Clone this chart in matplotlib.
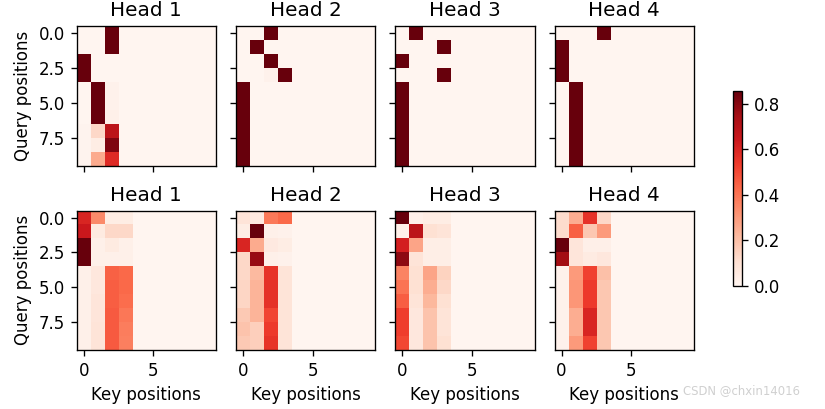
import numpy as np
import matplotlib
matplotlib.use("Agg")
import matplotlib.pyplot as plt

# attention weights, 10 queries x 4 valid keys (keys 4-9 are masked -> 0)
top_head1 = [[0, 0, 1, 0], [0, 0, 1, 0], [1, 0, 0, 0], [1, 0, 0, 0],
             [0, 1, 0.02, 0], [0, 1, 0.02, 0], [0, 1, 0.03, 0],
             [0.01, 0.15, 0.8, 0], [0.01, 0.05, 0.95, 0], [0.01, 0.3, 0.68, 0]]
top_head2 = [[0, 0, 1, 0], [0, 1, 0, 0], [0, 0, 1, 0], [0, 0, 0.02, 1],
             [1, 0, 0, 0], [1, 0, 0, 0], [1, 0, 0, 0],
             [1, 0, 0, 0], [1, 0, 0, 0], [1, 0, 0, 0]]
top_head3 = [[0, 1, 0, 0], [0, 0, 0, 1], [1, 0, 0, 0], [0, 0, 0, 1],
             [1, 0, 0, 0], [1, 0, 0, 0], [1, 0, 0, 0],
             [1, 0, 0, 0], [1, 0, 0, 0], [1, 0, 0, 0]]
top_head4 = [[0, 0, 0, 1], [1, 0, 0, 0], [1, 0, 0, 0], [1, 0, 0, 0],
             [0, 1, 0, 0], [0, 1, 0, 0], [0, 1, 0, 0],
             [0, 1, 0, 0], [0, 1, 0, 0], [0, 1, 0, 0]]

bot_head1 = [[0.70, 0.40, 0.05, 0.05], [0.75, 0.06, 0.15, 0.15],
             [1.00, 0.03, 0.06, 0.03], [1.00, 0.03, 0.03, 0.03],
             [0.03, 0.08, 0.52, 0.50], [0.03, 0.08, 0.53, 0.50],
             [0.03, 0.09, 0.53, 0.49], [0.03, 0.09, 0.54, 0.46],
             [0.03, 0.10, 0.54, 0.44], [0.03, 0.10, 0.54, 0.43]]
bot_head2 = [[0.10, 0.07, 0.45, 0.50], [0.05, 1.00, 0.03, 0.02],
             [0.70, 0.30, 0.07, 0.05], [0.15, 0.90, 0.03, 0.02],
             [0.15, 0.25, 0.65, 0.10], [0.16, 0.27, 0.66, 0.10],
             [0.16, 0.27, 0.66, 0.10], [0.20, 0.27, 0.60, 0.10],
             [0.22, 0.18, 0.63, 0.10], [0.20, 0.18, 0.65, 0.10]]
bot_head3 = [[1.00, 0.03, 0.05, 0.05], [0.03, 0.80, 0.12, 0.10],
             [0.72, 0.32, 0.04, 0.04], [0.92, 0.10, 0.04, 0.04],
             [0.42, 0.12, 0.32, 0.17], [0.47, 0.12, 0.29, 0.15],
             [0.53, 0.10, 0.26, 0.12], [0.62, 0.08, 0.22, 0.10],
             [0.62, 0.08, 0.22, 0.10], [0.59, 0.08, 0.22, 0.12]]
bot_head4 = [[0.12, 0.25, 0.56, 0.13], [0.12, 0.45, 0.18, 0.30],
             [0.857, 0.08, 0.03, 0.03], [0.75, 0.08, 0.05, 0.07],
             [0.02, 0.30, 0.52, 0.20], [0.02, 0.31, 0.54, 0.18],
             [0.02, 0.31, 0.54, 0.18], [0.02, 0.25, 0.60, 0.18],
             [0.02, 0.25, 0.60, 0.18], [0.02, 0.30, 0.52, 0.18]]

num_keys = 10
titles = ["Head 1", "Head 2", "Head 3", "Head 4"]
rows = [[top_head1, top_head2, top_head3, top_head4],
        [bot_head1, bot_head2, bot_head3, bot_head4]]


def pad(m):
    m = np.array(m, dtype=float)
    out = np.zeros((m.shape[0], num_keys))
    out[:, :m.shape[1]] = m
    return out


dpi = 120
fig, axes = plt.subplots(2, 4, figsize=(825 / dpi, 409 / dpi), dpi=dpi,
                         sharex=True, sharey=True, squeeze=False)
fig.subplots_adjust(left=0.093, right=0.841, top=0.936, bottom=0.144,
                    wspace=0.144, hspace=0.32)

for i, (row_axes, row_mats) in enumerate(zip(axes, rows)):
    for j, (ax, mat) in enumerate(zip(row_axes, row_mats)):
        pcm = ax.imshow(pad(mat), cmap="Reds")
        if i == 1:
            ax.set_xlabel("Key positions")
        if j == 0:
            ax.set_ylabel("Query positions")
        ax.set_title(titles[j])

axes[0][0].set_yticks([0, 2.5, 5, 7.5])
axes[0][0].set_yticklabels(["0.0", "2.5", "5.0", "7.5"])

cax = fig.add_axes([733 / 825, 1 - 286 / 409, 9 / 825, 195 / 409])
fig.colorbar(pcm, cax=cax)

fig.text(0.97, 0.03, "CSDN @chxin14016", ha="right", va="bottom",
         fontsize=7, color="#d0d0d0")

fig.savefig("out.png", dpi=dpi)
